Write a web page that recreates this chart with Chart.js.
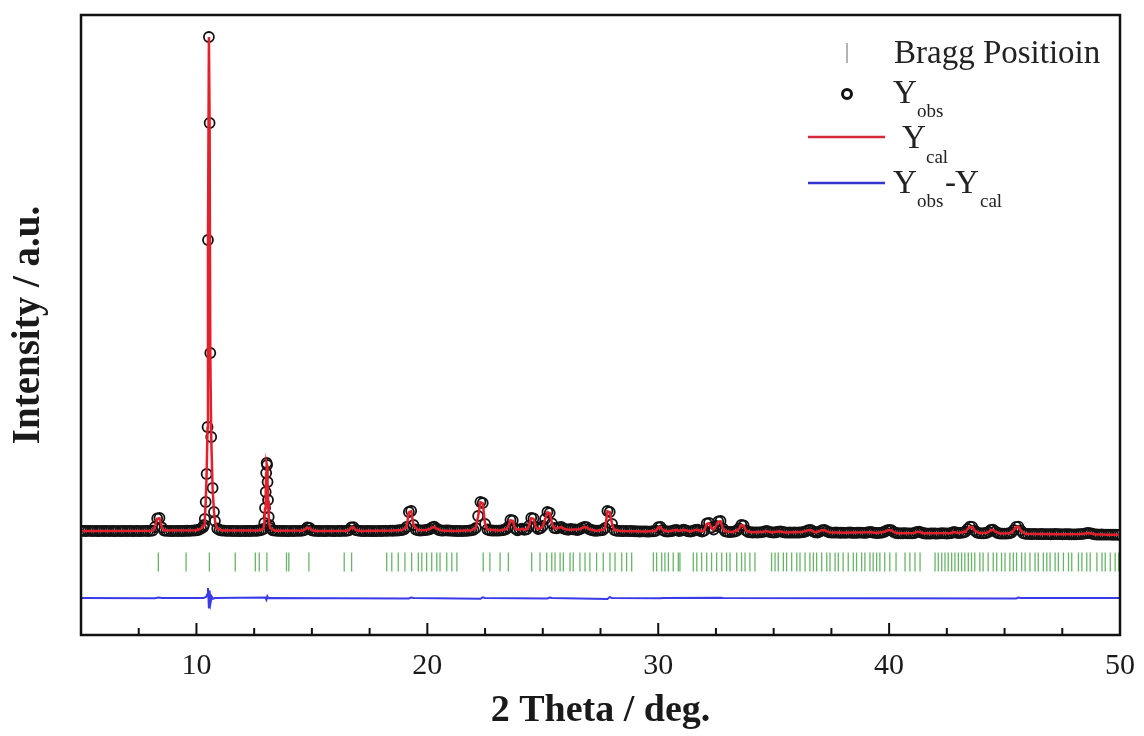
<!DOCTYPE html>
<html>
<head>
<meta charset="utf-8">
<script src="https://cdn.jsdelivr.net/npm/chart.js@4.4.1/dist/chart.umd.min.js"></script>
<style>
  body { margin: 0; background: #fff; }
  #wrap { width: 1144px; height: 736px; position: relative; }
</style>
</head>
<body>
<div id="wrap"><canvas id="xrd"></canvas></div>
<script>
// observed pattern, 2theta grid from 5.0 to 50.0 deg, step 0.1 (one row per degree)
const obsStart = 5.0;
const obsStep = 0.1;
const yObs = [
  185,182,180,183,181,179,182,180,178,181,
  180,182,179,181,180,178,181,179,180,182,
  179,181,180,178,182,180,179,181,183,180,
  182,186,260,430,440,250,190,183,181,180,
  179,181,180,182,180,183,185,184,187,190,
  195,205,230,260,760,6000,3740,1040,380,230,
  200,190,186,184,182,181,180,182,180,179,
  181,180,182,180,183,182,185,190,200,220,
  960,800,240,195,186,183,181,180,182,180,
  179,181,180,182,181,183,187,205,250,240,
  195,184,182,180,181,179,180,182,181,180,
  179,181,180,183,182,185,192,250,255,200,
  186,182,180,179,181,180,178,180,179,181,
  180,182,184,183,186,185,188,190,195,200,
  215,260,560,580,300,210,195,190,192,198,
  205,215,250,265,230,200,190,188,192,190,
  186,183,182,180,181,179,182,184,188,195,
  205,240,480,760,740,320,210,195,190,188,
  186,188,192,200,215,260,400,390,230,195,
  210,225,205,215,280,440,430,260,220,235,
  280,420,560,540,330,240,232,250,262,230,
  215,205,220,212,210,200,215,240,262,258,
  220,200,190,185,188,192,200,240,580,560,
  320,200,185,182,180,178,181,179,180,176,
  175,172,170,172,171,170,169,172,175,185,
  255,260,200,175,170,172,180,195,200,180,
  190,205,190,172,170,180,200,205,185,170,
  190,330,340,250,210,280,370,380,230,175,
  165,160,162,170,185,230,300,290,190,160,
  155,150,152,150,153,158,170,180,165,152,
  150,155,168,172,160,150,148,150,147,150,
  148,150,152,160,175,195,200,175,155,150,
  170,195,200,175,155,148,146,150,148,145,
  146,144,147,150,145,143,145,148,146,144,
  145,155,160,150,142,140,143,150,165,190,
  200,195,160,140,135,133,135,138,134,132,
  134,140,160,166,150,135,130,128,130,132,
  130,128,131,135,133,130,132,140,160,150,
  140,142,150,165,220,266,262,190,150,138,
  132,135,140,160,200,205,170,140,130,128,
  126,128,135,150,200,262,266,190,140,125,
  122,120,118,121,119,117,120,118,116,118,
  115,117,120,118,116,114,116,118,115,113,
  112,114,116,118,122,132,140,138,125,114,
  110,108,110,109,107,108,106,105,107,104,
  103
];

// extra observed points on the flanks of the two strong reflections
const yObsPeaks = [
  [10.33,300],[10.36,420],[10.44,1320],[10.48,2260],[10.54,10060],[10.57,8340],
  [10.64,2060],[10.76,560],
  [12.94,340],[12.97,640],[13.02,1340],[13.04,1540],[13.06,1500],[13.08,1160],
  [13.13,460],[13.16,300]
];

// calculated profile
const yCal = [
  [5.0,182],[8.1,184],[8.2,255],[8.3,425],[8.4,435],[8.5,245],[8.6,190],
  [10.0,195],[10.2,228],[10.33,295],[10.36,410],[10.4,750],[10.44,1300],[10.48,2240],
  [10.5,5950],[10.54,10060],[10.57,8320],[10.6,3720],[10.64,2050],[10.7,1030],
  [10.76,560],[10.82,330],[10.9,225],[11.1,190],
  [12.7,188],[12.9,220],[12.94,340],[12.97,630],[13.0,950],[13.02,1330],[13.04,1530],
  [13.06,1490],[13.08,1150],[13.1,790],[13.13,455],[13.16,300],[13.2,235],[13.4,186],
  [14.6,190],[14.7,210],[14.8,245],[14.9,238],[15.0,196],[15.2,182],
  [16.5,186],[16.6,195],[16.7,248],[16.8,252],[16.9,200],[17.1,182],
  [18.5,188],[18.9,200],[19.1,255],[19.2,555],[19.3,575],[19.4,295],[19.6,196],
  [19.9,198],[20.1,215],[20.2,248],[20.3,262],[20.4,228],[20.6,190],[21.2,182],
  [21.9,195],[22.1,238],[22.2,475],[22.3,755],[22.4,735],[22.5,318],[22.6,210],
  [23.1,190],[23.4,214],[23.5,258],[23.6,395],[23.7,385],[23.8,228],[24.0,208],
  [24.1,224],[24.2,204],[24.3,214],[24.4,278],[24.5,435],[24.6,425],[24.7,258],
  [24.8,220],[24.9,234],[25.0,278],[25.1,415],[25.2,555],[25.3,535],[25.4,328],
  [25.5,238],[25.6,230],[25.7,248],[25.8,258],[25.9,228],[26.1,205],[26.4,210],
  [26.6,215],[26.7,238],[26.8,258],[26.9,255],[27.0,218],[27.3,186],[27.6,200],
  [27.7,240],[27.8,575],[27.9,555],[28.0,315],[28.1,200],[28.4,180],
  [29.5,170],[29.9,185],[30.0,250],[30.1,255],[30.2,198],[30.4,170],[30.7,195],
  [30.8,198],[30.9,180],[31.1,203],[31.4,172],[31.6,200],[31.7,203],[31.9,170],
  [32.0,190],[32.1,325],[32.2,335],[32.3,248],[32.4,210],[32.5,278],[32.6,365],
  [32.7,375],[32.8,228],[32.9,175],[33.2,162],[33.4,185],[33.5,228],[33.6,295],
  [33.7,285],[33.8,188],[34.0,155],
  [34.5,158],[34.7,178],[34.9,152],[35.2,168],[35.3,170],[35.5,150],[36.2,158],
  [36.5,193],[36.6,198],[36.8,153],[37.1,193],[37.2,198],[37.4,153],[38.0,146],
  [39.1,155],[39.2,158],[39.4,142],[39.8,165],[39.9,188],[40.0,198],[40.1,193],
  [40.2,158],[40.4,135],[41.1,140],[41.2,158],[41.3,164],[41.5,135],[42.7,140],
  [42.8,158],[43.0,140],[43.3,165],[43.4,218],[43.5,264],[43.6,260],[43.7,190],
  [43.9,138],[44.2,140],[44.3,160],[44.4,198],[44.5,203],[44.6,168],[44.8,130],
  [45.2,135],[45.3,150],[45.4,198],[45.5,260],[45.6,264],[45.7,190],[45.9,125],
  [46.5,118],[47.5,115],[48.3,120],[48.5,132],[48.6,140],[48.7,136],[48.9,114],
  [49.5,106],[50.0,103]
];

// Yobs - Ycal
const yDiff = [
  [5,0],[8.2,-5],[8.35,10],[8.5,-2],[10.3,2],[10.42,20],[10.46,70],[10.5,200],
  [10.54,-210],[10.57,150],[10.61,-100],[10.66,30],[10.72,-15],[10.8,0],
  [12.98,10],[13.03,-35],[13.07,35],[13.12,-5],[13.2,0],
  [19.2,-10],[19.3,10],[19.4,0],[22.3,-15],[22.4,12],[22.5,0],
  [25.2,-8],[25.3,8],[25.4,0],[27.8,-20],[27.9,18],[28.0,0],
  [30.1,-6],[30.2,0],[32.7,5],[32.8,0],[45.5,-8],[45.6,8],[45.7,0],[50,0]
];

// Bragg reflection positions (deg)
const braggPos = [
  8.35, 9.55, 10.56, 11.68, 12.55, 12.72, 13.05, 13.90, 14.00, 14.87,
  16.40, 16.72, 18.24, 18.46, 18.74, 19.03, 19.32, 19.61, 19.76, 19.97,
  20.19, 20.41, 20.55, 20.84, 21.06, 21.28,
  22.42, 22.71, 23.15, 23.51, 24.52, 24.88, 25.17, 25.39, 25.53, 25.75,
  25.89, 26.18, 26.32, 26.61, 26.83, 27.04, 27.33, 27.62, 27.91, 28.13,
  28.42, 28.63, 28.85,
  29.79, 29.93, 30.15, 30.29, 30.44, 30.65, 30.87, 30.94, 31.52, 31.67,
  31.88, 32.10, 32.31, 32.53, 32.75, 32.96, 33.11, 33.40, 33.61, 33.76,
  33.97, 34.19, 34.91, 35.06, 35.20, 35.42, 35.56, 35.78, 36.00, 36.14,
  36.36, 36.57, 36.72, 36.86, 37.08, 37.30, 37.44, 37.66, 37.80, 38.01,
  38.23, 38.45, 38.59, 38.81, 38.95, 39.17, 39.31, 39.46, 39.60, 39.81,
  40.03, 40.30, 40.69, 40.90, 41.12, 41.34,
  41.99, 42.13, 42.28, 42.42, 42.56, 42.71, 42.85, 43.00, 43.14, 43.28,
  43.43, 43.57, 43.71, 43.93, 44.07, 44.29, 44.51, 44.66, 44.87, 45.02,
  45.23, 45.38, 45.52, 45.74, 45.89, 46.10, 46.32, 46.46, 46.68, 46.83,
  46.97, 47.19, 47.33, 47.55, 47.77, 47.91, 48.20, 48.35, 48.56, 48.71,
  49.00, 49.22, 49.36, 49.58, 49.79, 49.94
];

const xTicks = [10, 20, 30, 40, 50];
const xMinorTicks = [7.5, 12.5, 15, 17.5, 22.5, 25, 27.5, 32.5, 35, 37.5, 42.5, 45, 47.5];

// vertical placement of the lower traces (intensity units)
const braggLevel = -440;
const diffOffset = -1160;

const obsGrid = yObs.map(function (v, i) {
  return { x: +(obsStart + i * obsStep).toFixed(2), y: v };
});
const obsExtra = yObsPeaks.map(function (p) { return { x: p[0], y: p[1] }; });
const calData = yCal.map(function (p) { return { x: p[0], y: p[1] }; });
const diffData = yDiff.map(function (p) { return { x: p[0], y: p[1] + diffOffset }; });
const braggData = braggPos.map(function (t) { return { x: t, y: braggLevel }; });

const serif = "'Liberation Serif', 'Times New Roman', serif";
Chart.defaults.font.family = serif;
Chart.defaults.color = '#1a1a1a';

// frame, inward ticks and the legend with subscripts
const framePlugin = {
  id: 'frame',
  afterDraw: function (chart) {
    const ctx = chart.ctx;
    const a = chart.chartArea;
    const xs = chart.scales.x;
    ctx.save();
    ctx.strokeStyle = '#111';
    ctx.lineWidth = 2;
    xTicks.forEach(function (t) {
      const px = xs.getPixelForValue(t);
      ctx.beginPath(); ctx.moveTo(px, a.bottom); ctx.lineTo(px, a.bottom - 12); ctx.stroke();
    });
    xMinorTicks.forEach(function (t) {
      const px = xs.getPixelForValue(t);
      ctx.beginPath(); ctx.moveTo(px, a.bottom); ctx.lineTo(px, a.bottom - 7); ctx.stroke();
    });
    ctx.lineWidth = 2.5;
    ctx.strokeRect(a.left, a.top, a.right - a.left, a.bottom - a.top);

    // legend
    ctx.strokeStyle = '#9a9a9a';
    ctx.lineWidth = 1.5;
    ctx.beginPath(); ctx.moveTo(847, 43); ctx.lineTo(847, 63); ctx.stroke();
    ctx.strokeStyle = '#111';
    ctx.lineWidth = 3;
    ctx.beginPath(); ctx.arc(847, 94, 4.5, 0, Math.PI * 2); ctx.stroke();
    ctx.lineWidth = 2.5;
    ctx.strokeStyle = '#d42a3a';
    ctx.beginPath(); ctx.moveTo(808, 137); ctx.lineTo(885, 137); ctx.stroke();
    ctx.strokeStyle = '#3535d0';
    ctx.beginPath(); ctx.moveTo(808, 183); ctx.lineTo(885, 183); ctx.stroke();

    ctx.fillStyle = '#222';
    ctx.textBaseline = 'alphabetic';
    ctx.textAlign = 'left';
    const big = '33px ' + serif;
    const small = '19px ' + serif;
    ctx.font = big;
    ctx.fillText('Bragg Positioin', 894, 63);
    ctx.fillText('Y', 893, 103);
    ctx.fillText('Y', 902, 148);
    ctx.fillText('Y', 893, 193);
    ctx.fillText('-', 945, 193);
    ctx.fillText('Y', 955, 193);
    ctx.font = small;
    ctx.fillText('obs', 917, 117);
    ctx.fillText('cal', 926, 163);
    ctx.fillText('obs', 917, 207);
    ctx.fillText('cal', 980, 207);
    ctx.restore();
  }
};

const ctx = document.getElementById('xrd').getContext('2d');
const grafico = new Chart(ctx, {
  type: 'scatter',
  data: {
    datasets: [
      {
        label: 'Ycal',
        data: calData,
        showLine: true,
        borderColor: '#e3202c',
        borderWidth: 2.5,
        pointRadius: 0,
        order: 0
      },
      {
        label: 'Yobs',
        data: obsGrid,
        showLine: false,
        pointRadius: 5,
        pointBorderWidth: 1.8,
        pointBorderColor: '#121212',
        pointBackgroundColor: 'rgba(0,0,0,0)',
        order: 1
      },
      {
        label: 'Yobs peaks',
        data: obsExtra,
        showLine: false,
        pointRadius: 5,
        pointBorderWidth: 1.8,
        pointBorderColor: '#121212',
        pointBackgroundColor: 'rgba(0,0,0,0)',
        order: 2
      },
      {
        label: 'Yobs-Ycal',
        data: diffData,
        showLine: true,
        borderColor: '#3a3ae8',
        borderWidth: 2,
        pointRadius: 0,
        order: 3
      },
      {
        label: 'Bragg Positioin',
        data: braggData,
        showLine: false,
        pointStyle: 'line',
        rotation: 90,
        pointRadius: 9.5,
        pointBorderWidth: 1.3,
        pointBorderColor: 'rgba(40,150,40,0.7)',
        order: 4
      }
    ]
  },
  options: {
    responsive: true,
    maintainAspectRatio: false,
    animation: false,
    devicePixelRatio: 1,
    layout: { padding: { top: 15, right: 24, bottom: 0, left: 0 } },
    plugins: {
      legend: { display: false },
      tooltip: { enabled: false }
    },
    scales: {
      x: {
        type: 'linear',
        min: 5,
        max: 50,
        grid: { display: false, drawTicks: false },
        border: { display: false },
        afterBuildTicks: function (s) {
          s.ticks = xTicks.map(function (v) { return { value: v }; });
        },
        afterFit: function (s) {
          s.height = 101;
          s.paddingRight = 0;
          s.paddingLeft = 0;
        },
        ticks: {
          font: { size: 30 },
          color: '#1a1a1a',
          padding: 13,
          maxRotation: 0
        },
        title: {
          display: true,
          text: '2 Theta / deg.',
          font: { size: 38, weight: 'bold' },
          color: '#1a1a1a',
          padding: { top: 0, bottom: 2 }
        }
      },
      y: {
        type: 'linear',
        min: -1900,
        max: 10500,
        grid: { display: false, drawTicks: false },
        border: { display: false },
        ticks: { display: false },
        afterFit: function (s) { s.width = 81; },
        title: {
          display: true,
          text: 'Intensity / a.u.',
          font: { size: 39, weight: 'bold' },
          color: '#1a1a1a',
          padding: { top: 6, bottom: 0 }
        }
      }
    }
  },
  plugins: [framePlugin]
});
</script>
</body>
</html>
